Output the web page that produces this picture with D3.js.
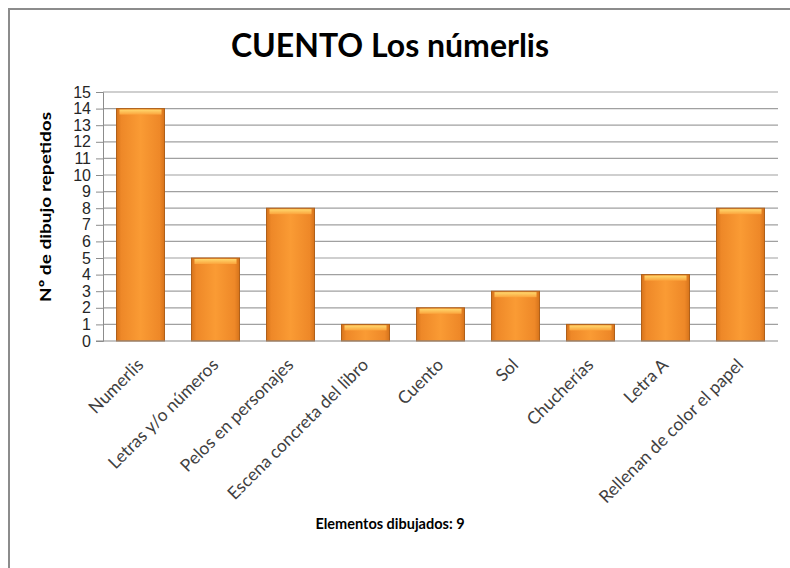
<!DOCTYPE html>
<html>
<head>
<meta charset="utf-8">
<script src="https://cdn.jsdelivr.net/npm/d3@7"></script>
<style>
  body { margin: 0; background: #fff; }
  svg { display: block; font-family: Lato, "Open Sans", sans-serif; }
</style>
</head>
<body>
<div id="chart-area"></div>
<script>
var categories = ["Numerlis", "Letras y/o números", "Pelos en personajes", "Escena concreta del libro",
    "Cuento", "Sol", "Chucherías", "Letra A", "Rellenan de color el papel"];
var values = [14, 5, 8, 1, 2, 3, 1, 4, 8];
var yTicks = d3.range(0, 16);

var width = 790;
var height = 568;
var margin = {top: 92, right: 12, bottom: 227, left: 103};
var innerW = width - margin.left - margin.right;
var innerH = height - margin.top - margin.bottom;

var svg = d3.select("#chart-area").append("svg")
    .attr("width", width)
    .attr("height", height);

// gradients for the bars
var defs = svg.append("defs");
var bodyGrad = defs.append("linearGradient").attr("id", "barBody")
    .attr("x1", "0").attr("x2", "1").attr("y1", "0").attr("y2", "0");
bodyGrad.append("stop").attr("offset", "0%").attr("stop-color", "#d6731b");
bodyGrad.append("stop").attr("offset", "10%").attr("stop-color", "#ee8828");
bodyGrad.append("stop").attr("offset", "50%").attr("stop-color", "#fa9b34");
bodyGrad.append("stop").attr("offset", "90%").attr("stop-color", "#ee8828");
bodyGrad.append("stop").attr("offset", "100%").attr("stop-color", "#d6731b");

var topGrad = defs.append("linearGradient").attr("id", "barTop")
    .attr("x1", "0").attr("x2", "0").attr("y1", "0").attr("y2", "1");
topGrad.append("stop").attr("offset", "0%").attr("stop-color", "#ffd86e");
topGrad.append("stop").attr("offset", "100%").attr("stop-color", "#fba43c");

// outer frame (only top and left visible)
svg.append("path")
    .attr("d", "M9,568 L9,9 L790,9")
    .attr("fill", "none")
    .attr("stroke", "#8c8c8c")
    .attr("stroke-width", 2);

var g = svg.append("g")
    .attr("transform", "translate(" + margin.left + ", " + margin.top + ")");

var x = d3.scaleBand()
    .domain(categories)
    .range([0, innerW])
    .paddingInner(0.36)
    .paddingOuter(0.18);

var y = d3.scaleLinear()
    .domain([0, 15])
    .range([innerH, 0]);

// gridlines
g.append("g")
    .selectAll("line")
    .data(yTicks.filter(function(d) { return d > 0; }))
    .enter().append("line")
        .attr("x1", 0)
        .attr("x2", innerW)
        .attr("y1", function(d) { return y(d); })
        .attr("y2", function(d) { return y(d); })
        .attr("stroke", "#a0a0a0")
        .attr("stroke-width", 1.2);

var yAxis = g.append("g")
    .call(d3.axisLeft(y).tickValues(yTicks).tickSize(7).tickPadding(5));
yAxis.select(".domain").attr("stroke", "#8c8c8c");
yAxis.selectAll(".tick line").attr("stroke", "#8c8c8c");
yAxis.selectAll("text")
    .attr("font-size", "16px")
    .attr("fill", "#262626");

// bars
var bars = g.selectAll(".bar")
    .data(values)
    .enter().append("g")
        .attr("class", "bar");

bars.append("rect")
    .attr("x", function(d, i) { return x(categories[i]); })
    .attr("y", function(d) { return y(d); })
    .attr("width", x.bandwidth())
    .attr("height", function(d) { return innerH - y(d); })
    .attr("fill", "url(#barBody)")
    .attr("stroke", "#b0601a")
    .attr("stroke-width", 1);

bars.append("rect")
    .attr("x", function(d, i) { return x(categories[i]) + 3; })
    .attr("y", function(d) { return y(d) + 1; })
    .attr("width", x.bandwidth() - 6)
    .attr("height", 5)
    .attr("fill", "url(#barTop)");

// x axis baseline
g.append("line")
    .attr("x1", -7)
    .attr("x2", innerW)
    .attr("y1", innerH)
    .attr("y2", innerH)
    .attr("stroke", "#8c8c8c")
    .attr("stroke-width", 1.2);

// x labels
g.selectAll(".xlabel")
    .data(categories)
    .enter().append("text")
        .attr("class", "xlabel")
        .attr("text-anchor", "end")
        .attr("font-size", "17.5px")
        .attr("fill", "#404040")
        .attr("transform", function(d) {
            return "translate(" + (x(d) + x.bandwidth() / 2 + 4) + ", " + (innerH + 25) + ") rotate(-45)";
        })
        .text(function(d) { return d; });

// titles
svg.append("text")
    .attr("x", 390)
    .attr("y", 57)
    .attr("text-anchor", "middle")
    .attr("font-size", "32px")
    .attr("font-weight", "bold")
    .attr("fill", "#000")
    .text("CUENTO Los númerlis");

svg.append("text")
    .attr("x", -207)
    .attr("y", 51)
    .attr("transform", "rotate(-90)")
    .attr("text-anchor", "middle")
    .attr("font-size", "16px")
    .attr("font-weight", "bold")
    .attr("fill", "#000")
    .attr("textLength", 190)
    .attr("lengthAdjust", "spacingAndGlyphs")
    .text("Nº de dibujo repetidos");

svg.append("text")
    .attr("x", 390)
    .attr("y", 529)
    .attr("text-anchor", "middle")
    .attr("font-size", "14.5px")
    .attr("font-weight", "bold")
    .attr("fill", "#000")
    .text("Elementos dibujados: 9");
</script>
</body>
</html>
